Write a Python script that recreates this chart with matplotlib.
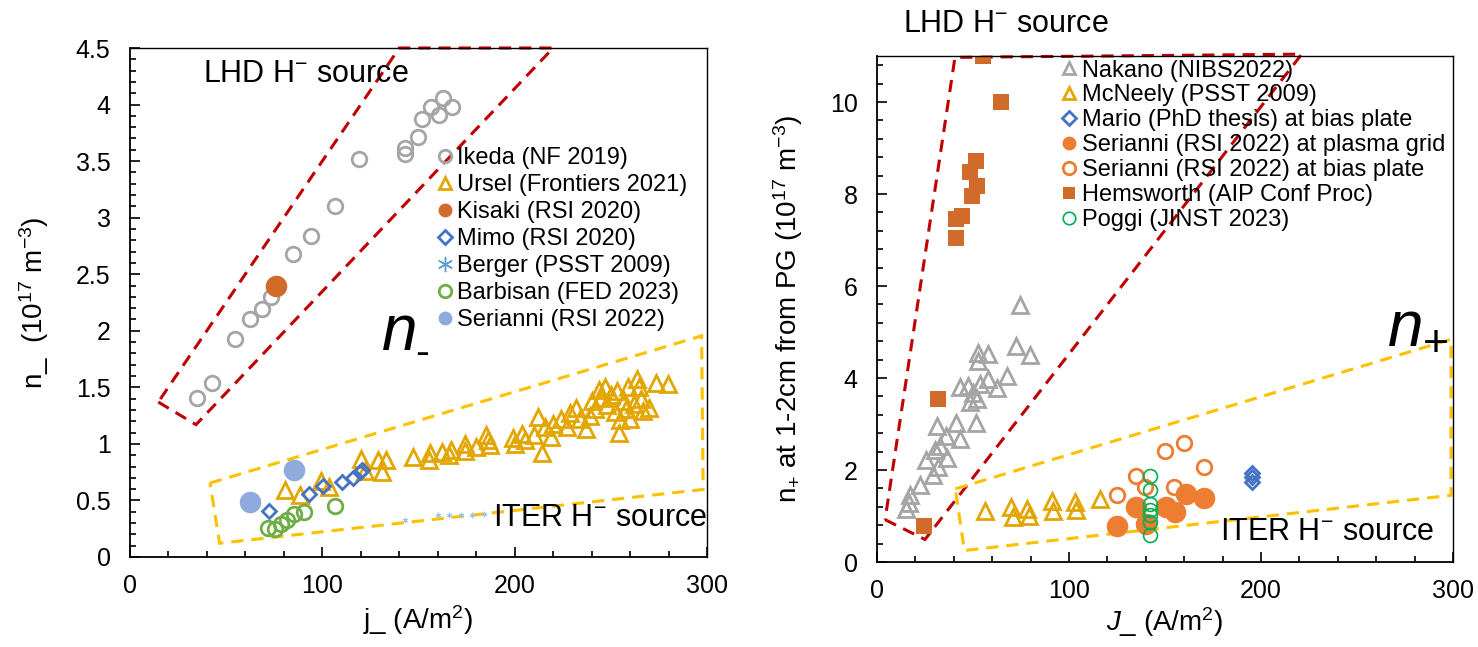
import matplotlib.pyplot as plt
from matplotlib.lines import Line2D
from matplotlib.patches import Polygon
from matplotlib.ticker import MultipleLocator

plt.rcParams['font.family'] = ['Liberation Sans', 'DejaVu Sans']
plt.rcParams['mathtext.fontset'] = 'custom'
plt.rcParams['mathtext.rm'] = 'Liberation Sans'
plt.rcParams['mathtext.it'] = 'Liberation Sans:italic'
plt.rcParams['mathtext.sf'] = 'Liberation Sans'

# ---------------- negative ion density n_ vs j_ ----------------
ikeda_j = [34.6, 42.6, 54.6, 62.4, 68.5, 73.3, 84.9, 94.1, 106.6, 119.3,
           143.0, 143.0, 149.6, 151.7, 156.4, 160.8, 162.9, 167.6]
ikeda_n = [1.41, 1.54, 1.93, 2.10, 2.19, 2.30, 2.68, 2.84, 3.10, 3.52,
           3.62, 3.56, 3.71, 3.87, 3.98, 3.91, 4.06, 3.98]

ursel_j = [80.5, 88.5, 99.4, 103.4, 120.3, 122.3, 128.7, 130.9, 133.3, 147.2,
           155.2, 156.2, 162.1, 166.1, 167.1, 174.1, 174.1, 180.1, 185.1, 186.1,
           187.0, 199.0, 200.0, 204.0, 205.6, 210.0, 212.0, 214.0, 216.0, 219.0,
           220.0, 224.0, 227.0, 228.9, 232.0, 234.0, 237.0, 239.0, 240.0, 242.0,
           244.0, 245.0, 247.0, 248.0, 250.0, 252.0, 253.0, 254.0, 255.0, 257.0,
           258.0, 259.0, 260.0, 262.0, 263.7, 264.7, 265.7, 266.8, 269.7, 273.7,
           279.7]
ursel_n = [0.59, 0.55, 0.67, 0.62, 0.87, 0.76, 0.86, 0.75, 0.86, 0.88,
           0.86, 0.92, 0.93, 0.90, 0.95, 1.00, 0.94, 0.97, 1.08, 1.03,
           0.99, 1.05, 1.00, 1.09, 1.03, 1.08, 1.24, 0.92, 1.15, 1.06,
           1.18, 1.22, 1.15, 1.27, 1.32, 1.22, 1.13, 1.25, 1.38, 1.31,
           1.48, 1.41, 1.50, 1.34, 1.43, 1.28, 1.47, 1.10, 1.21, 1.38,
           1.31, 1.50, 1.22, 1.35, 1.57, 1.50, 1.40, 1.29, 1.32, 1.54,
           1.53]

kisaki_j = [76.0]
kisaki_n = [2.40]

mimo_j = [72.5, 93.0, 100.4, 110.3, 116.0, 119.7, 120.7]
mimo_n = [0.41, 0.56, 0.63, 0.66, 0.70, 0.75, 0.77]

berger_j = [143.0, 160.0, 166.0, 172.0, 178.0, 184.0]
berger_n = [0.33, 0.37, 0.37, 0.37, 0.37, 0.38]

barbisan_j = [71.5, 75.5, 78.5, 81.5, 85.4, 90.4, 106.4]
barbisan_n = [0.26, 0.25, 0.29, 0.33, 0.38, 0.40, 0.45]

serianni_j = [62.6, 85.4]
serianni_n = [0.49, 0.77]

lhd_left_box = [(14.7, 1.37), (34.3, 1.17), (220.0, 4.5), (140.0, 4.5)]
iter_left_box = [(41.6, 0.654), (297.2, 1.955), (298.0, 0.597), (46.6, 0.122)]

# ---------------- positive ion density n+ vs J_ ----------------
nakano_j = [15.1, 16.8, 17.2, 22.4, 25.5, 29.3, 31.9, 30.2, 32.8, 36.6,
            35.9, 31.1, 43.2, 41.1, 51.6, 43.2, 47.6, 48.4, 51.9, 50.2,
            53.6, 58.0, 62.3, 67.5, 52.8, 52.8, 58.0, 72.4, 79.7, 74.5]
nakano_n = [1.15, 1.28, 1.46, 1.68, 2.22, 1.90, 2.06, 2.44, 2.53, 2.26,
            2.73, 2.95, 2.67, 3.03, 3.03, 3.80, 3.82, 3.47, 3.54, 3.67,
            3.86, 3.97, 3.78, 4.04, 4.36, 4.55, 4.53, 4.69, 4.51, 5.58]

mcneely_j = [56.3, 69.6, 70.6, 78.0, 79.0, 91.0, 91.6, 103.1, 103.6, 116.1]
mcneely_n = [1.10, 1.19, 0.97, 1.15, 1.00, 1.33, 1.11, 1.30, 1.13, 1.37]

mario_j = [195.2, 195.2, 195.2]
mario_n = [1.93, 1.85, 1.74]

serianni_pg_j = [124.9, 134.7, 140.3, 150.6, 155.2, 160.8, 170.1]
serianni_pg_n = [0.78, 1.19, 0.82, 1.19, 1.08, 1.48, 1.39]

serianni_bp_j = [124.9, 134.7, 139.4, 150.0, 154.8, 159.8, 170.1]
serianni_bp_n = [1.46, 1.88, 1.63, 2.42, 1.64, 2.58, 2.07]

hemsworth_j = [55.4, 64.4, 51.6, 48.4, 51.9, 49.3, 44.1, 41.1, 41.3, 31.9, 24.5]
hemsworth_n = [11.0, 9.99, 8.72, 8.48, 8.18, 7.96, 7.52, 7.45, 7.04, 3.54, 0.78]

poggi_j = [142.2, 142.2, 142.2, 142.2, 142.2, 142.2, 142.2]
poggi_n = [1.88, 1.56, 1.26, 1.12, 1.02, 0.87, 0.59]

lhd_right_box = [(4.2, 0.92), (25.0, 0.49), (221.2, 11.04), (40.6, 10.97)]
iter_right_box = [(40.8, 1.59), (299.0, 4.84), (299.0, 1.45), (45.5, 0.25)]

GRAY = '#A5A5A5'
GOLD = '#E3A600'
ORANGE = '#ED7D31'
DARK_ORANGE = '#D06B2C'
BLUE = '#4472C4'
LIGHT_BLUE = '#8FAADC'
SKY = '#5B9BD5'
GREEN = '#70AD47'
BRIGHT_GREEN = '#00B050'
RED = '#C00000'
YELLOW = '#FFC000'

open_c = dict(ls='none', marker='o', mfc='none', mew=2.0, ms=10.5)
tri = dict(ls='none', marker='^', mfc='none', mew=2.0, ms=11)
dia = dict(ls='none', marker='D', mfc='none', mew=2.0, ms=7.5)
big_dot = dict(ls='none', marker='o', mew=0, ms=15.5)


def style_axes(ax, xmax, ymax, ymajor, yminor):
    ax.set_xlim(0, xmax)
    ax.set_ylim(0, ymax)
    ax.xaxis.set_major_locator(MultipleLocator(100))
    ax.xaxis.set_minor_locator(MultipleLocator(20))
    ax.yaxis.set_major_locator(MultipleLocator(ymajor))
    ax.yaxis.set_minor_locator(MultipleLocator(yminor))
    ax.tick_params(which='both', direction='in', top=False, right=False,
                   labelsize=18, width=1.2, pad=14)
    ax.tick_params(axis='x', which='both', pad=12)
    ax.tick_params(which='major', length=7)
    ax.tick_params(which='minor', length=4.5)
    for side in ax.spines.values():
        side.set_linewidth(1.3)
    ax.spines['top'].set_linewidth(1.0)
    ax.spines['right'].set_linewidth(1.0)


def dashed_box(ax, corners, color):
    ax.add_patch(Polygon(corners, closed=True, fill=False, ec=color, lw=2.2,
                         ls=(0, (4, 2.6)), clip_on=False, zorder=1))


fig = plt.figure(figsize=(14.78, 6.47), dpi=100)
ax1 = fig.add_axes([130 / 1478, 90 / 647, 577 / 1478, 509 / 647])
ax2 = fig.add_axes([877 / 1478, 85 / 647, 576 / 1478, 506 / 647])

# left panel
dashed_box(ax1, lhd_left_box, RED)
dashed_box(ax1, iter_left_box, YELLOW)
ax1.plot(ikeda_j, ikeda_n, mec=GRAY, **open_c)
ax1.plot(ursel_j, ursel_n, mec=GOLD, **tri)
ax1.plot(kisaki_j, kisaki_n, color=DARK_ORANGE, **big_dot)
ax1.plot(mimo_j, mimo_n, mec=BLUE, **dia)
ax1.plot(berger_j, berger_n, ls='none', marker=(6, 2, 0), color='#9DC3E6', ms=4, mew=0.6)
ax1.plot(barbisan_j, barbisan_n, mec=GREEN, **open_c)
ax1.plot(serianni_j, serianni_n, color=LIGHT_BLUE, **big_dot)
style_axes(ax1, 300, 4.5, 0.5, 0.1)
ax1.set_yticks([0, 0.5, 1, 1.5, 2, 2.5, 3, 3.5, 4, 4.5],
               ['0', '0.5', '1', '1.5', '2', '2.5', '3', '3.5', '4', '4.5'])
ax1.set_xlabel('j_ (A/m$^{2}$)', fontsize=20, labelpad=4)
ax1.set_ylabel('n_  (10$^{17}$ m$^{-3}$)', fontsize=20, labelpad=18)

ax1.text(38.1, 4.20, 'LHD H$^{-}$ source', fontsize=22, ha='left', va='baseline')
ax1.text(300, 0.27, 'ITER H$^{-}$ source', fontsize=22, ha='right', va='baseline')
ax1.text(131, 1.83, 'n', fontsize=46, style='italic', ha='left', va='baseline')
ax1.text(148, 1.70, '-', fontsize=30, ha='left', va='baseline')

left_handles = [
    Line2D([], [], mec=GRAY, **dict(open_c, ms=9)),
    Line2D([], [], mec=GOLD, **dict(tri, ms=9)),
    Line2D([], [], color=DARK_ORANGE, **dict(big_dot, ms=10)),
    Line2D([], [], mec=BLUE, **dict(dia, ms=7)),
    Line2D([], [], ls='none', marker=(6, 2, 0), color=SKY, ms=11, mew=1.0),
    Line2D([], [], mec=GREEN, **dict(open_c, ms=9)),
    Line2D([], [], color=LIGHT_BLUE, **dict(big_dot, ms=10)),
]
left_labels = ['Ikeda (NF 2019)', 'Ursel (Frontiers 2021)', 'Kisaki (RSI 2020)',
               'Mimo (RSI 2020)', 'Berger (PSST 2009)', 'Barbisan (FED 2023)',
               'Serianni (RSI 2022)']
ax1.legend(left_handles, left_labels, loc='upper left', bbox_to_anchor=(0.532, 0.805),
           frameon=False, fontsize=17, handlelength=0.7, handletextpad=0.15,
           labelspacing=0.21, borderpad=0, borderaxespad=0)

# right panel
dashed_box(ax2, lhd_right_box, RED)
dashed_box(ax2, iter_right_box, YELLOW)
ax2.plot(nakano_j, nakano_n, mec=GRAY, **tri)
ax2.plot(mcneely_j, mcneely_n, mec=GOLD, **tri)
ax2.plot(mario_j, mario_n, mec=BLUE, **dia)
ax2.plot(serianni_pg_j, serianni_pg_n, color=ORANGE, **big_dot)
ax2.plot(serianni_bp_j, serianni_bp_n, mec=ORANGE, **open_c)
ax2.plot(hemsworth_j, hemsworth_n, ls='none', marker='s', color=DARK_ORANGE, mew=0, ms=11)
ax2.plot(poggi_j, poggi_n, ls='none', marker='o', mfc='none', mec=BRIGHT_GREEN, mew=1.2, ms=10)
style_axes(ax2, 300, 11, 2, 0.4)
ax2.set_xlabel('$J$_ (A/m$^{2}$)', fontsize=20, labelpad=2)
ax2.set_ylabel('n$_{+}$ at 1-2cm from PG (10$^{17}$ m$^{-3}$)', fontsize=20, labelpad=18)

ax2.text(13.5, 11.7, 'LHD H$^{-}$ source', fontsize=22, ha='left', va='center', clip_on=False)
ax2.text(290, 0.48, 'ITER H$^{-}$ source', fontsize=22, ha='right', va='baseline')
ax2.text(265.5, 4.76, '$n_{+}$', fontsize=46, ha='left', va='baseline')

right_handles = [
    Line2D([], [], mec=GRAY, **dict(tri, ms=9)),
    Line2D([], [], mec=GOLD, **dict(tri, ms=9)),
    Line2D([], [], mec=BLUE, **dict(dia, ms=7)),
    Line2D([], [], color=ORANGE, **dict(big_dot, ms=10)),
    Line2D([], [], mec=ORANGE, **dict(open_c, ms=9)),
    Line2D([], [], ls='none', marker='s', color=DARK_ORANGE, mew=0, ms=9),
    Line2D([], [], ls='none', marker='o', mfc='none', mec=BRIGHT_GREEN, mew=1.2, ms=9),
]
right_labels = ['Nakano (NIBS2022)', 'McNeely (PSST 2009)', 'Mario (PhD thesis) at bias plate',
                'Serianni (RSI 2022) at plasma grid', 'Serianni (RSI 2022) at bias plate',
                'Hemsworth (AIP Conf Proc)', 'Poggi (JINST 2023)']
ax2.legend(right_handles, right_labels, loc='upper left', bbox_to_anchor=(0.319, 0.993),
           frameon=False, fontsize=17, handlelength=0.7, handletextpad=0.2,
           labelspacing=0.125, borderpad=0, borderaxespad=0)

fig.savefig('out.png', dpi=100)
